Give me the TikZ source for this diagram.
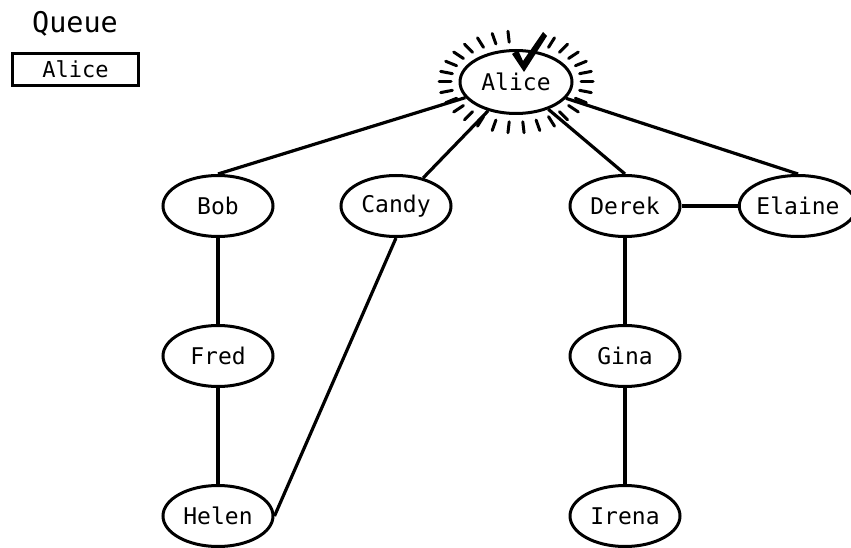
\documentclass[tikz,border=0pt]{standalone}
\usepackage{fontspec}
\setmonofont{DejaVu Sans Mono}
\usetikzlibrary{shapes.geometric,calc}
\begin{document}
\begin{tikzpicture}[x=1pt,y=-1pt,
  person/.style={draw,ellipse,line width=3pt,minimum width=110pt,minimum height=61pt,
    inner sep=0pt,font=\ttfamily\fontsize{23}{25}\selectfont},
  link/.style={line width=3.2pt},
  ray/.style={line width=3pt,line cap=round}]
\useasboundingbox (0,0) rectangle (851,548);

% queue panel
\node (qtitle) at (75,24) {\ttfamily\fontsize{28.5}{31}\selectfont Queue};
\node[draw,line width=3.5pt,minimum width=126pt,minimum height=32pt,inner sep=0pt,
  font=\ttfamily\fontsize{22}{24}\selectfont] (qalice) at (75.5,69.5) {Alice};

% graph nodes
\node[person,minimum width=112pt,minimum height=63pt] (alice) at (516,82) {Alice};
\node[person] (bob)    at (218,206) {Bob};
\node[person] (candy)  at (396,206) {Candy};
\node[person] (derek)  at (625,206) {Derek};
\node[person] (elaine) at (798,206) {Elaine};
\node[person] (fred)   at (218,356) {Fred};
\node[person] (gina)   at (625,356) {Gina};
\node[person] (helen)  at (218,516) {Helen};
\node[person] (irena)  at (625,516) {Irena};

% connections
\draw[link] (alice) -- (bob.north);
\draw[link] (alice) -- (candy);
\draw[link] (alice) -- (derek.north);
\draw[link] (alice) -- (elaine.north);
\draw[link] (derek) -- (elaine);
\draw[link] (bob) -- (fred);
\draw[link] (fred) -- (helen);
\draw[link] (candy.south) -- (helen.east);
\draw[link] (derek) -- (gina);
\draw[link] (gina) -- (irena);

% glow around the visited node
\foreach \a in {0,12,...,350}{
  \ifnum\a=276\relax\else\ifnum\a=288\relax\else
  \draw[ray] ($(alice.center)+(\a:65 and 40)$) -- ($(alice.center)+(\a:77 and 51)$);
  \fi\fi
}

% check mark
\fill (512,54) -- (518,50) -- (523,61) -- (543,32) -- (547,36) -- (524,72) -- cycle;
\end{tikzpicture}
\end{document}
